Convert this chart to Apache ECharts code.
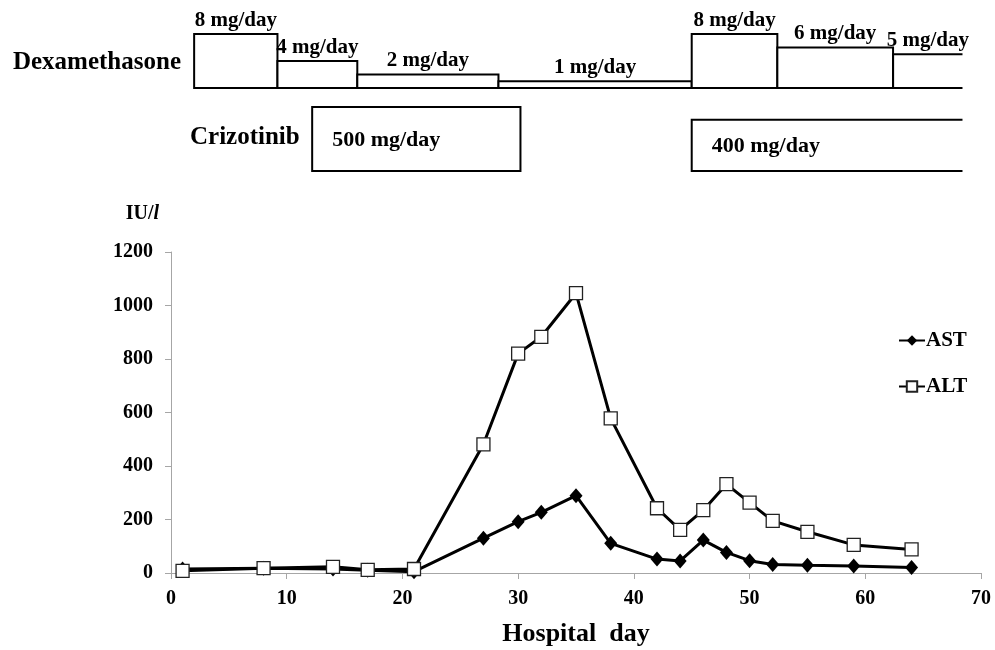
<!DOCTYPE html>
<html>
<head>
<meta charset="utf-8">
<script src="https://cdn.jsdelivr.net/npm/echarts@6/dist/echarts.min.js"></script>
<style>
  html, body { margin: 0; padding: 0; background: #fff; }
  #liverChart { width: 995px; height: 650px; }
</style>
</head>
<body>
<div id="liverChart"></div>
<script>
// 检查日 (hospital day)
var astDays = [1, 8, 14, 17, 21, 27, 30, 32, 35, 38, 42, 44, 46, 48, 50, 52, 55, 59, 64];
var astValues = [15, 18, 15, 10, 5, 130, 192, 227, 289, 111, 52, 45, 123, 77, 46, 32, 29, 26, 21];
var altDays = [1, 8, 14, 17, 21, 27, 30, 32, 35, 38, 42, 44, 46, 48, 50, 52, 55, 59, 64];
var altValues = [8, 18, 23, 12, 15, 481, 820, 883, 1046, 578, 242, 161, 235, 332, 263, 195, 154, 105, 88];

// 用药 (dose schedules)
var dexStart = [2.0, 9.2, 16.1, 28.3, 45.0, 52.4, 62.4];
var dexEnd = [9.2, 16.1, 28.3, 45.0, 52.4, 62.4, 68.4];
var dexDose = [8, 4, 2, 1, 8, 6, 5];
var dexOngoing = [0, 0, 0, 0, 0, 0, 1];
var dexLabels = ["8 mg/day", "4 mg/day", "2 mg/day", "1 mg/day", "8 mg/day", "6 mg/day", "5 mg/day"];

var crizoStart = [12.2, 45.0];
var crizoEnd = [30.2, 68.4];
var crizoDose = [500, 400];
var crizoOngoing = [0, 1];
var crizoLabels = ["500 mg/day", "400 mg/day"];

var SERIF = '"Liberation Serif", "Times New Roman", serif';

function pairs(xs, ys) {
  return xs.map(function(x, i) { return [x, ys[i]]; });
}
function doseRows(s, e, d, o) {
  return s.map(function(v, i) { return [v, e[i], d[i], o[i]]; });
}

function doseShape(api) {
  var tl = api.coord([api.value(0), api.value(2)]);
  var br = api.coord([api.value(1), 0]);
  if (api.value(3)) {
    // 持续用药: right side left open
    return {
      type: "polyline",
      shape: { points: [[br[0], tl[1]], [tl[0], tl[1]], [tl[0], br[1]], [br[0], br[1]]] },
      style: { stroke: "#000", lineWidth: 2, fill: null }
    };
  }
  return {
    type: "rect",
    shape: { x: tl[0], y: tl[1], width: br[0] - tl[0], height: br[1] - tl[1] },
    style: { fill: "#fff", stroke: "#000", lineWidth: 2 }
  };
}

function renderDex(params, api) {
  var tl = api.coord([api.value(0), api.value(2)]);
  var br = api.coord([api.value(1), 0]);
  return {
    type: "group",
    children: [
      doseShape(api),
      {
        type: "text",
        x: (tl[0] + br[0]) / 2,
        y: tl[1] - 3,
        style: {
          text: dexLabels[params.dataIndex],
          align: "center",
          verticalAlign: "bottom",
          font: "bold 21px " + SERIF,
          fill: "#000"
        }
      }
    ]
  };
}

function renderCrizo(params, api) {
  var tl = api.coord([api.value(0), api.value(2)]);
  var br = api.coord([api.value(1), 0]);
  return {
    type: "group",
    children: [
      doseShape(api),
      {
        type: "text",
        x: tl[0] + 20,
        y: (tl[1] + br[1]) / 2 + 1,
        style: {
          text: crizoLabels[params.dataIndex],
          align: "left",
          verticalAlign: "middle",
          font: "bold 22px " + SERIF,
          fill: "#000"
        }
      }
    ]
  };
}

var myChart = echarts.init(document.getElementById("liverChart"));

var hiddenX = function(idx) {
  return { gridIndex: idx, type: "value", min: 0, max: 70, show: false };
};

var option = {
  backgroundColor: "#fff",
  animation: false,
  textStyle: { fontFamily: SERIF },
  grid: [
    { left: 171, right: 14, top: 252, bottom: 77 },
    { left: 171, right: 14, top: 34, height: 54 },
    { left: 171, right: 14, top: 107, height: 64 }
  ],
  graphic: [
    {
      type: "text", right: 995 - 181, top: 50,
      style: { text: "Dexamethasone", font: "bold 25px " + SERIF, fill: "#000" }
    },
    {
      type: "text", left: 190, top: 125,
      style: { text: "Crizotinib", font: "bold 25px " + SERIF, fill: "#000" }
    }
  ],
  legend: {
    orient: "vertical",
    left: 893,
    top: 325,
    itemWidth: 26,
    itemHeight: 13,
    itemGap: 25,
    data: ["AST", "ALT"],
    textStyle: { fontFamily: SERIF, fontWeight: "bold", fontSize: 21, color: "#000", padding: [0, 0, 0, -4] }
  },
  xAxis: [
    {
      gridIndex: 0,
      type: "value",
      min: 0,
      max: 70,
      interval: 10,
      name: "Hospital  day",
      nameLocation: "middle",
      nameGap: 48,
      nameTextStyle: { fontFamily: SERIF, fontWeight: "bold", fontSize: 26, color: "#000" },
      axisLine: { lineStyle: { color: "#a6a6a6", width: 1 } },
      axisTick: { show: true, length: 6, lineStyle: { color: "#a6a6a6" } },
      axisLabel: { margin: 16, fontFamily: SERIF, fontWeight: "bold", fontSize: 20, color: "#000" },
      splitLine: { show: false }
    },
    hiddenX(1),
    hiddenX(2)
  ],
  yAxis: [
    {
      gridIndex: 0,
      type: "value",
      min: 0,
      max: 1200,
      interval: 200,
      name: "{a|IU/}{b|l}",
      nameLocation: "end",
      nameGap: 28,
      nameTextStyle: {
        align: "right",
        padding: [0, 12, 0, 0],
        rich: {
          a: { fontFamily: SERIF, fontWeight: "bold", fontSize: 20, color: "#000" },
          b: { fontFamily: SERIF, fontWeight: "bold", fontStyle: "italic", fontSize: 20, color: "#000" }
        }
      },
      axisLine: { show: true, lineStyle: { color: "#a6a6a6", width: 1 } },
      axisTick: { show: true, length: 6, lineStyle: { color: "#a6a6a6" } },
      axisLabel: {
        margin: 18, fontFamily: SERIF, fontWeight: "bold", fontSize: 20, color: "#000",
        formatter: function(v) { return String(v); }
      },
      splitLine: { show: false }
    },
    { gridIndex: 1, type: "value", min: 0, max: 8, show: false },
    { gridIndex: 2, type: "value", min: 0, max: 500, show: false }
  ],
  series: [
    {
      name: "AST",
      type: "line",
      xAxisIndex: 0,
      yAxisIndex: 0,
      data: pairs(astDays, astValues),
      symbol: "diamond",
      symbolSize: [13, 15],
      lineStyle: { color: "#000", width: 3 },
      itemStyle: { color: "#000" }
    },
    {
      name: "ALT",
      type: "line",
      xAxisIndex: 0,
      yAxisIndex: 0,
      data: pairs(altDays, altValues),
      symbol: "rect",
      symbolSize: 13,
      lineStyle: { color: "#000", width: 3 },
      itemStyle: { color: "#fff", borderColor: "#222", borderWidth: 1.3 }
    },
    {
      name: "Dexamethasone",
      type: "custom",
      xAxisIndex: 1,
      yAxisIndex: 1,
      renderItem: renderDex,
      encode: { x: [0, 1], y: 2 },
      data: doseRows(dexStart, dexEnd, dexDose, dexOngoing),
      clip: false
    },
    {
      name: "Crizotinib",
      type: "custom",
      xAxisIndex: 2,
      yAxisIndex: 2,
      renderItem: renderCrizo,
      encode: { x: [0, 1], y: 2 },
      data: doseRows(crizoStart, crizoEnd, crizoDose, crizoOngoing),
      clip: false
    }
  ]
};

myChart.setOption(option);
window.onresize = function() {
  myChart.resize();
};
</script>
</body>
</html>
